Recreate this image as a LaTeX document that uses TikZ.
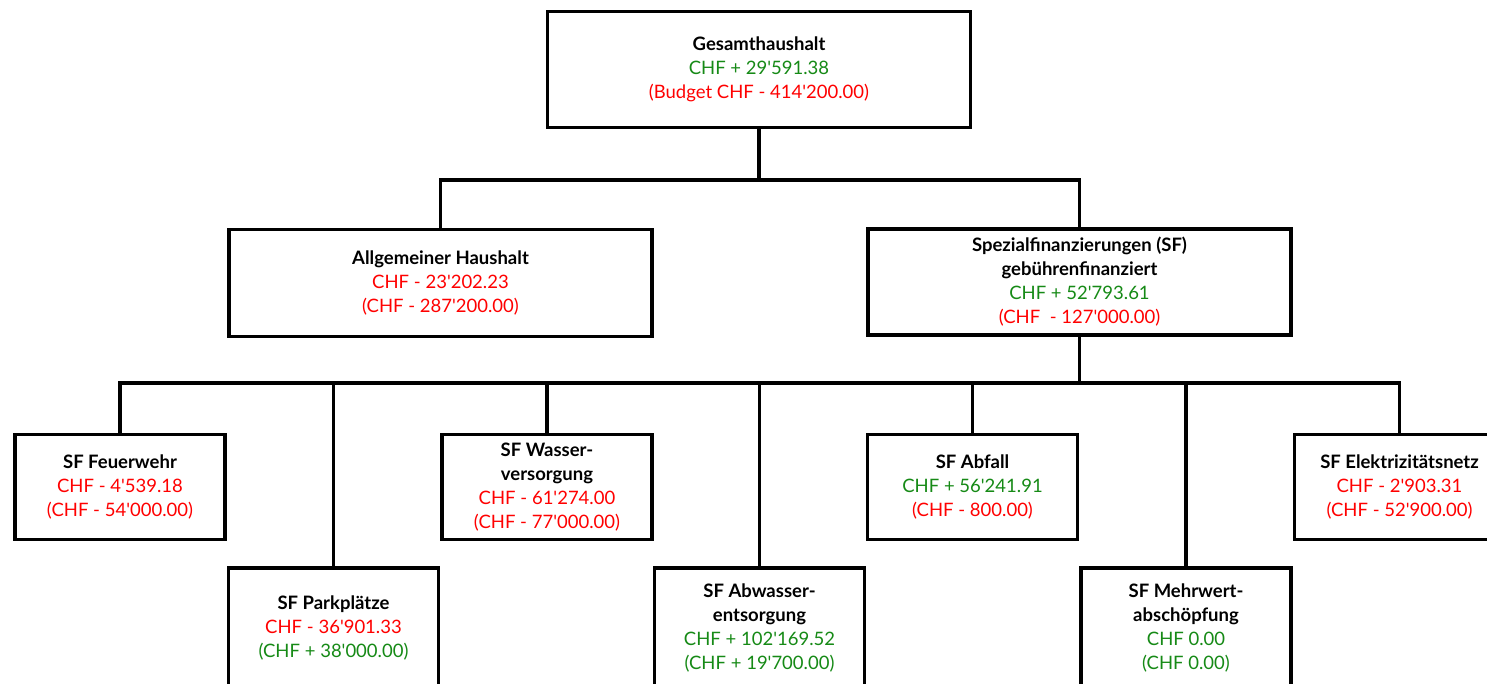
\documentclass[tikz,border=0pt]{standalone}
\usepackage{fontspec}
\newfontfamily\lato{Lato}
\definecolor{grn}{RGB}{22,138,22}
\definecolor{rd}{RGB}{255,0,0}
\tikzset{
  x=1pt, y=-1pt,
  box/.style={draw=black, line width=3.8pt, rectangle, fill=white, align=center,
    inner sep=0pt, font=\lato\fontsize{18.5}{24}\selectfont},
  wide/.style={box, minimum width=423pt},
  narrow/.style={box, minimum width=210pt},
  conn/.style={draw=black, line width=3.8pt}
}
\newcommand{\ttl}[1]{\textbf{#1}}
\newcommand{\gv}[1]{\textcolor{grn}{#1}}
\newcommand{\rv}[1]{\textcolor{rd}{#1}}
\begin{document}
\begin{tikzpicture}
\useasboundingbox (0,0) rectangle (1487,683);
\clip (0,0) rectangle (1487,683);
\fill[white] (0,0) rectangle (1487,683);

\node[wide, minimum height=116pt] (ges) at (759,69.5)
  {\ttl{Gesamthaushalt}\\ \gv{CHF + 29'591.38}\\ \rv{(Budget CHF - 414'200.00)}};
\node[wide, minimum height=107pt] (allg) at (440.5,283)
  {\ttl{Allgemeiner Haushalt}\\ \rv{CHF - 23'202.23}\\ \rv{(CHF - 287'200.00)}};
\node[wide, minimum height=106pt] (sf) at (1079.5,282)
  {\ttl{Spezialfinanzierungen (SF)}\\ \ttl{gebührenfinanziert}\\ \gv{CHF + 52'793.61}\\ \rv{(CHF\ \ - 127'000.00)}};

\node[narrow, minimum height=105pt] (feu) at (120,487)
  {\ttl{SF Feuerwehr}\\ \rv{CHF - 4'539.18}\\ \rv{(CHF - 54'000.00)}};
\node[narrow, minimum height=105pt] (was) at (547,487)
  {\ttl{SF Wasser-}\\ \ttl{versorgung}\\ \rv{CHF - 61'274.00}\\ \rv{(CHF - 77'000.00)}};
\node[narrow, minimum height=105pt] (abf) at (972.5,487)
  {\ttl{SF Abfall}\\ \gv{CHF + 56'241.91}\\ \rv{(CHF - 800.00)}};
\node[narrow, minimum height=105pt] (ele) at (1399.5,487)
  {\ttl{SF Elektrizitätsnetz}\\ \rv{CHF - 2'903.31}\\ \rv{(CHF - 52'900.00)}};

\node[narrow, minimum height=120pt] (park) at (333.5,628)
  {\ttl{SF Parkplätze}\\ \rv{CHF - 36'901.33}\\ \gv{(CHF + 38'000.00)}};
\node[narrow, minimum height=120pt] (abw) at (759.5,628)
  {\ttl{SF Abwasser-}\\ \ttl{entsorgung}\\ \gv{CHF + 102'169.52}\\ \gv{(CHF + 19'700.00)}};
\node[narrow, minimum height=120pt] (mehr) at (1186,628)
  {\ttl{SF Mehrwert-}\\ \ttl{abschöpfung}\\ \gv{CHF 0.00}\\ \gv{(CHF 0.00)}};

\coordinate (j1) at (759,180);
\coordinate (j2) at (1079.5,383);

\draw[conn] (ges.south) -- (j1);
\draw[conn] (j1) -| (allg.north);
\draw[conn] (j1) -| (sf.north);
\draw[conn] (sf.south) -- (j2);
\draw[conn] (j2) -| (feu.north);
\draw[conn] (j2) -| (park.north);
\draw[conn] (j2) -| (was.north);
\draw[conn] (j2) -| (abw.north);
\draw[conn] (j2) -| (abf.north);
\draw[conn] (j2) -| (mehr.north);
\draw[conn] (j2) -| (ele.north);
\end{tikzpicture}
\end{document}
